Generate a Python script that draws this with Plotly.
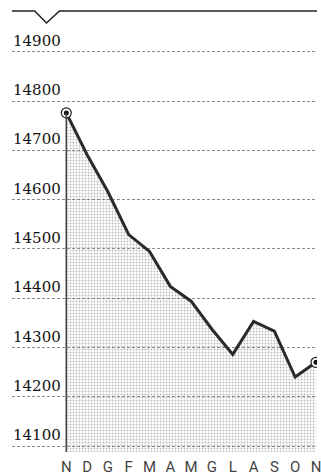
import plotly.graph_objects as go

months = ["N", "D", "G", "F", "M", "A", "M", "G", "L", "A", "S", "O", "N"]
values = [14776, 14691, 14616, 14529, 14495, 14424, 14394, 14337, 14286, 14353, 14333, 14240, 14270]
tick_values = [14100, 14200, 14300, 14400, 14500, 14600, 14700, 14800, 14900]
tick_labels = [str(v) for v in tick_values]

W, H = 321, 476
ML, MB, MT, MR = 12, 23, 0, 0
x_idx = list(range(len(months)))
px_per_x = 21.08
x_min = -(67 - ML) / px_per_x
x_max = x_min + (W - ML - MR) / px_per_x
y_min, y_max = 14088, 15005

fig = go.Figure()
fig.add_trace(go.Scatter(
    x=x_idx, y=values, mode="lines",
    line=dict(color="#2a2a2a", width=3),
    fill="tozeroy",
    fillcolor="rgba(130,130,130,0.38)",
    fillpattern=dict(shape=".", fgcolor="#777777", bgcolor="rgba(0,0,0,0)",
                     size=3, solidity=0.3, fillmode="overlay"),
    hoverinfo="skip", showlegend=False,
))
for i in (0, len(values) - 1):
    fig.add_trace(go.Scatter(x=[x_idx[i]], y=[values[i]], mode="markers",
                             marker=dict(symbol="circle", size=10, color="white",
                                         line=dict(color="#222", width=1.2)),
                             showlegend=False, hoverinfo="skip"))
    fig.add_trace(go.Scatter(x=[x_idx[i]], y=[values[i]], mode="markers",
                             marker=dict(symbol="circle", size=5, color="#111"),
                             showlegend=False, hoverinfo="skip"))

fig.add_shape(type="line", xref="x", yref="y", x0=x_idx[0], x1=x_idx[0],
              y0=y_min, y1=values[0], line=dict(color="#444", width=1.5), layer="above")

def px(xp):
    return (xp - ML) / (W - ML - MR)
def py(yp):
    return 1 - (yp - MT) / (H - MT - MB)
path = (f"M {px(12)},{py(11)} L {px(35)},{py(11)} L {px(47)},{py(23)} "
        f"L {px(60)},{py(11)} L {px(321)},{py(11)}")
fig.add_shape(type="path", xref="paper", yref="paper", path=path,
              line=dict(color="#222", width=1.5))

for v, t in zip(tick_values, tick_labels):
    fig.add_annotation(x=0, xref="paper", y=v, yref="y", text=t, showarrow=False,
                       xanchor="left", yanchor="bottom", xshift=-1, yshift=0,
                       font=dict(family="DejaVu Serif", size=15, color="#111"))

fig.update_layout(
    width=W, height=H,
    margin=dict(l=ML, r=MR, t=MT, b=MB, pad=0),
    paper_bgcolor="white", plot_bgcolor="white",
    xaxis=dict(range=[x_min, x_max], tickmode="array", tickvals=x_idx, ticktext=months,
               showgrid=False, zeroline=False, showline=False, ticks="",
               ticklabeloverflow="allow",
               tickfont=dict(family="Roboto", size=15, color="#444"), ticklabelstandoff=4),
    yaxis=dict(range=[y_min, y_max], tickmode="array", tickvals=tick_values,
               showticklabels=False, showgrid=True, gridcolor="#8c8c8c", gridwidth=1,
               griddash="3px,2px", zeroline=False, showline=False, ticks=""),
)

fig.write_html("out.html")
